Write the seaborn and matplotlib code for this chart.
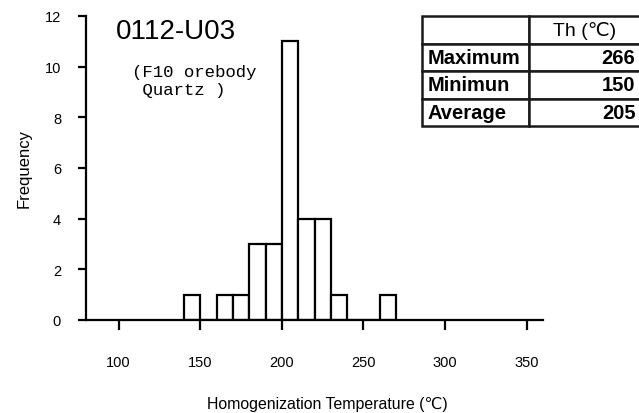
import pandas as pd
import seaborn as sns
from matplotlib import pyplot as plt


# Histogram data (10 degC bins, lower edges)
bin_lower = [140, 150, 160, 170, 180, 190, 200, 210, 220, 230, 240, 250, 260]
bin_count = [1, 0, 1, 1, 3, 3, 11, 4, 4, 1, 0, 0, 1]
bin_width = 10
x_ticks = [100, 150, 200, 250, 300, 350]
y_ticks = [0, 2, 4, 6, 8, 10, 12]

# Summary table
stat_names = ['Maximum', 'Minimun', 'Average']
stat_values = ['266', '150', '205']
stat_header = 'Th (℃)'

sample_name = '0112-U03'
sample_note = ['(F10 orebody', ' Quartz )']

sns.set_theme(style='white')
plt.rcParams['font.family'] = ['Liberation Sans', 'DejaVu Sans']
plt.rcParams['text.color'] = 'black'
plt.rcParams['axes.edgecolor'] = 'black'
plt.rcParams['xtick.color'] = 'black'
plt.rcParams['ytick.color'] = 'black'

W, H = 639, 414
fig = plt.figure(figsize=(W / 100, H / 100), dpi=100)
ax = fig.add_axes([86 / W, 1 - 321 / H, 457 / W, 304 / H])

# Histogram
df = pd.DataFrame({'temp': bin_lower, 'count': bin_count})
edges = bin_lower + [bin_lower[-1] + bin_width]
sns.histplot(data=df, x='temp', weights='count', bins=edges, color='white',
             edgecolor='black', linewidth=1.6, alpha=1, ax=ax)

# Axis settings
ax.set_xlim(80, 360)
ax.set_ylim(0, 12)
ax.set_xticks(x_ticks)
ax.set_yticks(y_ticks)
ax.set_xlabel('')
ax.set_ylabel('')
sns.despine(ax=ax)
for side in ['left', 'bottom']:
    ax.spines[side].set_linewidth(1.6)
ax.tick_params(axis='x', bottom=True, direction='out', length=7, width=1.6, pad=18, labelsize=10.5)
ax.tick_params(axis='y', left=True, direction='out', length=6, width=1.6, pad=12, labelsize=10.5)

# Labels
fig.text(24 / W, 1 - 168 / H, 'Frequency', rotation=90, ha='center', va='center', fontsize=12)
fig.text(327 / W, 1 - 405 / H, 'Homogenization Temperature (℃)', ha='center', va='center', fontsize=11.4)
fig.text(176 / W, 1 - 32 / H, sample_name, ha='center', va='center', fontsize=20)
for i, line in enumerate(sample_note):
    fig.text(132 / W, 1 - (73 + 17 * i) / H, line, ha='left', va='center',
             fontsize=12.5, family=['Liberation Mono', 'DejaVu Sans Mono'])

# Stats table in the top right corner
tax = fig.add_axes([422 / W, 1 - 127 / H, 219 / W, 110 / H])
tax.axis('off')
cells = [['', stat_header]] + [[n, v] for n, v in zip(stat_names, stat_values)]
table = tax.table(cellText=cells, colWidths=[107 / 219, 112 / 219], bbox=[0, 0, 1, 1])
table.auto_set_font_size(False)
for (r, c), cell in table.get_celld().items():
    cell.set_linewidth(1.8)
    cell.PAD = 0.05
    cell.set_text_props(fontsize=14.5, fontweight='bold')
    if r == 0:
        cell.set_text_props(ha='center', fontweight='normal', fontsize=14)
    elif c == 0:
        cell.set_text_props(ha='left')
    else:
        cell.set_text_props(ha='right')

plt.savefig('out.png', dpi=100)
plt.close()
